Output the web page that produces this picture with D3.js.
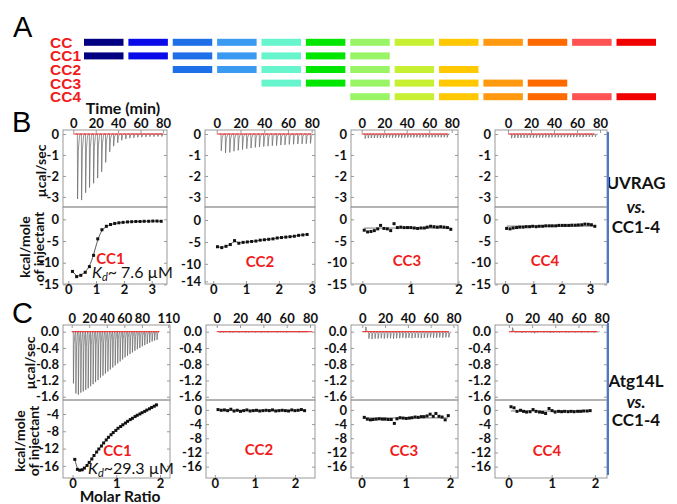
<!DOCTYPE html>
<html>
<head>
<meta charset="utf-8">
<script src="https://cdn.jsdelivr.net/npm/d3@7"></script>
<style>
body { margin: 0; background: #fff; }
svg text { font-family: Lato, "Open Sans", sans-serif; }
</style>
</head>
<body>
<svg id="fig" width="677" height="504"></svg>
<script>
// panel A : coiled-coil segments
var ccRows = ['CC', 'CC1', 'CC2', 'CC3', 'CC4'];
var segColors = ['#000080', '#0a0ae8', '#1f6fe8', '#3a9af2', '#66f5cc', '#00e600', '#99f566',
                 '#c8f032', '#ffc800', '#ff9a10', '#ff6a00', '#ff5252', '#f00000'];
var rowFirst = [0, 0, 2, 4, 6];
var rowLast = [12, 6, 8, 10, 12];

// injection times (min)
var bTimes = [3.6, 7.2, 10.8, 14.3, 17.9, 21.5, 25.1, 28.7, 32.3, 35.8, 39.4, 43.0, 46.6, 50.2,
              53.8, 57.3, 60.9, 64.5, 68.1, 71.7, 75.2, 78.8];
var fineTimes = [2.9, 5.6, 8.3, 11.0, 13.7, 16.4, 19.1, 21.8, 24.5, 27.2, 29.9, 32.6, 35.3, 38.0,
                 40.7, 43.4, 46.1, 48.8, 51.5, 54.2, 56.9, 59.6, 62.3, 65.0, 67.7, 70.4, 73.1, 75.8];
var c1Times = [1.8, 4.6, 7.4, 10.2, 13.0, 15.8, 18.6, 21.4, 24.2, 27.0, 29.8, 32.6, 35.4, 38.2, 41.0,
               43.8, 46.6, 49.4, 52.2, 55.0, 57.8, 60.6, 63.4, 66.2, 69.0, 71.8, 74.6, 77.4, 80.2,
               83.0, 85.8, 88.6, 91.4, 94.2, 97.0];

// raw heat peaks (ucal/sec)
var b1Peaks = [-3.1, -3.15, -2.8, -2.55, -2.35, -2.1, -1.8, -1.35, -0.85, -0.58, -0.42, -0.3, -0.24,
               -0.2, -0.18, -0.16, -0.15, -0.14, -0.13, -0.13, -0.12, -0.12];
var b2Peaks = [-0.8, -0.9, -0.88, -0.82, -0.78, -0.74, -0.7, -0.67, -0.64, -0.62, -0.6, -0.58, -0.56,
               -0.55, -0.53, -0.52, -0.5, -0.49, -0.48, -0.47, -0.46, -0.45];
var b3Peaks = [-0.22, -0.2, -0.19, -0.19, -0.18, -0.19, -0.18, -0.18, -0.17, -0.18, -0.17, -0.17, -0.18,
               -0.17, -0.17, -0.16, -0.17, -0.16, -0.17, -0.16, -0.16, -0.17, -0.16, -0.16, -0.15, -0.16,
               -0.15, -0.16];
var b4Peaks = [-0.2, -0.19, -0.19, -0.18, -0.18, -0.18, -0.17, -0.18, -0.17, -0.17, -0.17, -0.16, -0.17,
               -0.16, -0.16, -0.16, -0.16, -0.15, -0.16, -0.15, -0.15, -0.15, -0.14, -0.15, -0.14, -0.14,
               -0.14, -0.13];
var c1Peaks = [-1.27, -1.52, -1.55, -1.5, -1.47, -1.43, -1.39, -1.34, -1.29, -1.24, -1.19, -1.13, -1.08,
               -1.03, -0.98, -0.93, -0.88, -0.83, -0.78, -0.73, -0.68, -0.63, -0.59, -0.55, -0.51, -0.47,
               -0.43, -0.4, -0.36, -0.33, -0.3, -0.27, -0.24, -0.22, -0.2];
var c2Peaks = [-0.02, -0.02, -0.01, -0.02, -0.02, -0.01, -0.02, -0.01, -0.02, -0.02, -0.01, -0.02, -0.01,
               -0.02, -0.01, -0.02, -0.01, -0.01, -0.02, -0.01, -0.01, -0.02, -0.01, -0.01, -0.01, -0.02,
               -0.01, -0.01];
var c3Peaks = [0.12, -0.17, -0.18, -0.17, -0.17, -0.16, -0.17, -0.16, -0.16, -0.17, -0.16, -0.16, -0.15,
               -0.16, -0.15, -0.16, -0.15, -0.15, -0.16, -0.15, -0.15, -0.14, -0.15, -0.15, -0.14, -0.15,
               -0.14, -0.14];
var c4Peaks = [0.1, -0.02, -0.01, -0.03, -0.02, -0.01, -0.02, -0.04, -0.02, -0.01, -0.02, -0.01, -0.03,
               -0.02, -0.01, -0.02, -0.01, -0.02, -0.02, -0.01, -0.02, -0.01, -0.02, -0.01, -0.02, -0.01,
               -0.02, -0.01];
// end of red baseline (min)
var baseEnds = [80, 80, 77, 75, 100, 82, 76, 76];

// integrated heats: molar ratio / kcal per mole of injectant
var b1Ratio = [0.15, 0.30, 0.45, 0.61, 0.76, 0.91, 1.06, 1.21, 1.37, 1.52, 1.67, 1.82, 1.97, 2.13, 2.28,
               2.43, 2.58, 2.73, 2.89, 3.04, 3.19, 3.34];
var b1Heat = [-12.0, -13.2, -12.9, -12.2, -10.9, -8.3, -4.5, -2.4, -1.6, -1.2, -0.95, -0.8, -0.7, -0.6,
              -0.55, -0.5, -0.5, -0.45, -0.45, -0.4, -0.4, -0.45];
var b2Ratio = [0.13, 0.26, 0.39, 0.52, 0.65, 0.78, 0.91, 1.04, 1.17, 1.30, 1.43, 1.56, 1.69, 1.82, 1.95,
               2.08, 2.21, 2.34, 2.47, 2.60, 2.73, 2.86];
var b2Heat = [-6.1, -6.3, -6.0, -5.6, -4.7, -5.3, -5.1, -5.0, -4.9, -4.8, -4.6, -4.5, -4.4, -4.3, -4.1,
              -4.0, -3.9, -3.8, -3.7, -3.5, -3.4, -3.3];
var b3Ratio = [0.04, 0.11, 0.18, 0.25, 0.32, 0.38, 0.45, 0.52, 0.59, 0.66, 0.73, 0.80, 0.87, 0.94, 1.01,
               1.08, 1.15, 1.22, 1.29, 1.35, 1.42, 1.49, 1.56, 1.63, 1.70, 1.77, 1.84];
var b3Heat = [-2.5, -2.9, -2.8, -2.6, -2.2, -1.4, -2.1, -2.2, -2.6, -1.0, -1.9, -1.8, -1.9, -1.9, -1.9,
              -2.0, -2.1, -2.0, -2.0, -1.8, -1.6, -1.7, -1.8, -1.7, -1.8, -1.9, -2.3];
var b4Ratio = [0.06, 0.18, 0.29, 0.41, 0.52, 0.64, 0.75, 0.87, 0.98, 1.10, 1.21, 1.33, 1.44, 1.56, 1.67,
               1.79, 1.90, 2.02, 2.13, 2.25, 2.36, 2.48, 2.59, 2.71, 2.82, 2.94, 3.05, 3.17];
var b4Heat = [-2.1, -2.2, -2.0, -1.9, -1.8, -1.8, -1.7, -1.7, -1.6, -1.7, -1.6, -1.6, -1.5, -1.5, -1.5,
              -1.5, -1.4, -1.4, -1.4, -1.4, -1.35, -1.35, -1.3, -1.25, -1.1, -1.15, -1.25, -1.6];
var c1Ratio = [0.05, 0.11, 0.16, 0.22, 0.27, 0.33, 0.38, 0.44, 0.49, 0.55, 0.60, 0.66, 0.71, 0.77, 0.82,
               0.88, 0.93, 0.99, 1.04, 1.10, 1.15, 1.21, 1.26, 1.32, 1.37, 1.43, 1.48, 1.54, 1.59, 1.65,
               1.70, 1.76, 1.81, 1.87, 1.92];
var c1Heat = [-14.5, -16.8, -17.0, -16.9, -16.5, -15.9, -15.2, -14.4, -13.6, -12.8, -12.1, -11.4, -10.7,
              -10.0, -9.4, -8.8, -8.3, -7.8, -7.3, -6.9, -6.5, -6.1, -5.7, -5.3, -5.0, -4.6, -4.3, -4.0,
              -3.7, -3.4, -3.1, -2.8, -2.5, -2.2, -1.9];
var c2Ratio = [0.08, 0.16, 0.24, 0.32, 0.40, 0.48, 0.56, 0.64, 0.72, 0.80, 0.88, 0.96, 1.04, 1.12, 1.20,
               1.28, 1.36, 1.44, 1.52, 1.60, 1.68, 1.76, 1.84, 1.92, 2.00, 2.08, 2.16, 2.24];
var c2Heat = [0.1, -0.1, 0.0, -0.2, 0.2, -0.3, -0.1, -0.4, -0.2, 0.0, -0.3, -0.2, -0.1, -0.3, -0.2, -0.1,
              -0.2, 0.0, -0.3, -0.2, -0.1, -0.2, -0.3, 0.0, -0.2, -0.1, 0.1, -0.2];
var c3Ratio = [0.06, 0.13, 0.20, 0.26, 0.33, 0.40, 0.47, 0.53, 0.60, 0.67, 0.74, 0.80, 0.87, 0.94, 1.01,
               1.08, 1.14, 1.21, 1.28, 1.35, 1.41, 1.48, 1.55, 1.62, 1.68, 1.75, 1.82, 1.89, 1.96];
var c3Heat = [-2.1, -2.6, -2.8, -2.7, -2.6, -2.5, -2.6, -2.6, -2.7, -2.7, -3.8, -2.5, -2.2, -2.3, -2.4,
              -2.3, -2.2, -2.0, -2.1, -1.9, -1.9, -1.7, -1.2, -1.8, -1.0, -1.8, -2.0, -2.8, -1.6];
var c4Ratio = [0.06, 0.13, 0.20, 0.28, 0.35, 0.42, 0.50, 0.57, 0.64, 0.72, 0.79, 0.86, 0.94, 1.01, 1.08,
               1.16, 1.23, 1.30, 1.38, 1.45, 1.52, 1.60, 1.67, 1.74, 1.82, 1.89];
var c4Heat = [0.9, 0.6, -0.4, -0.1, -0.4, -0.6, -0.5, 0.1, -0.4, -0.6, -0.7, -1.0, 0.4, -0.2, -0.6, -0.4,
              -0.5, -0.4, -0.5, -0.4, -0.5, -0.4, -0.4, -0.3, -0.3, -0.2];

// tick labels
var bHeatTicks = [0, -1, -2, -3];
var cHeatTicks = [0, -0.4, -0.8, -1.2, -1.6];
var timeTicks = [0, 20, 40, 60, 80];
var c1TimeTicks = [0, 20, 40, 60, 80, 110];
var bEnthTicks = [0, -5, -10, -15];
var b2EnthTicks = [0, -5, -10, -14];
var c1EnthTicks = [-4, -8, -12, -16];
var cEnthTicks = [0, -4, -8, -12, -16];
var ratioTicks3 = [0, 1, 2, 3];
var ratioTicks2 = [0, 1, 2];

var svg = d3.select('#fig');
var red = '#f01c1c';

// ---------- panel A
svg.append('text').attr('x', 13).attr('y', 37).text('A')
    .style('font-family', '"Liberation Sans", Arial, sans-serif').style('font-size', '29px');

var segX = d3.scaleBand().domain(d3.range(segColors.length)).range([84, 656]).paddingInner(0.11);
var rowY = d3.scalePoint().domain(ccRows).range([42.3, 96.7]);

ccRows.forEach(function (r, i) {
    svg.append('text').attr('x', 50).attr('y', rowY(r)).attr('dominant-baseline', 'central')
        .text(r).attr('fill', red)
        .style('font-family', '"Liberation Sans Narrow", "Arial Narrow", "Liberation Sans", sans-serif')
        .style('font-weight', 'bold').style('font-size', '15.5px');
    for (var k = rowFirst[i]; k <= rowLast[i]; k++) {
        svg.append('rect').attr('x', segX(k)).attr('y', rowY(r) - 3.5)
            .attr('width', segX.bandwidth()).attr('height', 7).attr('fill', segColors[k]);
    }
});

// ---------- ITC panels
var bRow = {yTop: 130, yMid: 207, yBot: 284};
var cRow = {yTop: 325, yMid: 400, yBot: 478};
var fmt0 = function (d) { return String(d); };
var fmt1 = function (d) { return d.toFixed(1); };

var panels = [
    {row: bRow, x0: 63, x1: 167, timeDom: [-9.2, 83.6], heatDom: [-3.48, 0.19], ratioDom: [-0.19, 3.55], enthDom: [-14.9, 2.84],
     times: bTimes, peaks: b1Peaks, ratio: b1Ratio, heat: b1Heat, heatTicks: bHeatTicks, heatFmt: fmt0,
     timeTicks: timeTicks, enthTicks: bEnthTicks, ratioTicks: ratioTicks3, name: 'CC1', nx: 110.5, ny: 257.5,
     kd: '~ 7.6 \u00b5M', kx: 92, ky: 278, fit: 'smooth'},
    {row: bRow, x0: 205, x1: 315, timeDom: [-9.9, 82.8], heatDom: [-3.48, 0.19], ratioDom: [-0.25, 3.1], enthDom: [-14.6, 2.97],
     times: bTimes, peaks: b2Peaks, ratio: b2Ratio, heat: b2Heat, heatTicks: bHeatTicks, heatFmt: fmt0,
     timeTicks: timeTicks, enthTicks: b2EnthTicks, ratioTicks: ratioTicks3, name: 'CC2', nx: 260, ny: 261, fit: 'smooth'},
    {row: bRow, x0: 351, x1: 458, timeDom: [-9.5, 85.6], heatDom: [-3.48, 0.19], ratioDom: [-0.235, 1.99], enthDom: [-14.9, 2.84],
     times: fineTimes, peaks: b3Peaks, ratio: b3Ratio, heat: b3Heat, heatTicks: bHeatTicks, heatFmt: fmt0,
     timeTicks: timeTicks, enthTicks: bEnthTicks, ratioTicks: ratioTicks2, name: 'CC3', nx: 407, ny: 260, fit: 'flat'},
    {row: bRow, x0: 495, x1: 607, timeDom: [-11.3, 86.1], heatDom: [-3.48, 0.19], ratioDom: [-0.35, 3.6], enthDom: [-14.9, 2.84],
     times: fineTimes, peaks: b4Peaks, ratio: b4Ratio, heat: b4Heat, heatTicks: bHeatTicks, heatFmt: fmt0,
     timeTicks: timeTicks, enthTicks: bEnthTicks, ratioTicks: ratioTicks3, name: 'CC4', nx: 545, ny: 260, fit: 'flat'},
    {row: cRow, x0: 63, x1: 170, timeDom: [-9.9, 112], heatDom: [-1.68, 0.165], ratioDom: [-0.22, 2.23], enthDom: [-18.8, -0.77],
     times: c1Times, peaks: c1Peaks, ratio: c1Ratio, heat: c1Heat, heatTicks: cHeatTicks, heatFmt: fmt1,
     timeTicks: c1TimeTicks, enthTicks: c1EnthTicks, ratioTicks: ratioTicks2, name: 'CC1', nx: 117.5, ny: 450,
     kd: '~29.3 \u00b5M', kx: 88, ky: 474, fit: 'smooth'},
    {row: cRow, x0: 206, x1: 315, timeDom: [-9.2, 84.3], heatDom: [-1.68, 0.165], ratioDom: [-0.22, 2.5], enthDom: [-19.2, 2.8],
     times: fineTimes, peaks: c2Peaks, ratio: c2Ratio, heat: c2Heat, heatTicks: cHeatTicks, heatFmt: fmt1,
     timeTicks: timeTicks, enthTicks: cEnthTicks, ratioTicks: ratioTicks2, name: 'CC2', nx: 259, ny: 449, fit: 'flat'},
    {row: cRow, x0: 351, x1: 458, timeDom: [-9.9, 84], heatDom: [-1.68, 0.165], ratioDom: [-0.24, 2.18], enthDom: [-19.2, 2.8],
     times: fineTimes, peaks: c3Peaks, ratio: c3Ratio, heat: c3Heat, heatTicks: cHeatTicks, heatFmt: fmt1,
     timeTicks: timeTicks, enthTicks: cEnthTicks, ratioTicks: ratioTicks2, name: 'CC3', nx: 404, ny: 450, fit: 'flat'},
    {row: cRow, x0: 495, x1: 607, timeDom: [-12, 84.6], heatDom: [-1.68, 0.165], ratioDom: [-0.31, 2.28], enthDom: [-19.2, 2.8],
     times: fineTimes, peaks: c4Peaks, ratio: c4Ratio, heat: c4Heat, heatTicks: cHeatTicks, heatFmt: fmt1,
     timeTicks: timeTicks, enthTicks: cEnthTicks, ratioTicks: ratioTicks2, name: 'CC4', nx: 547, ny: 450, fit: 'flat'}
];

function styleAxis(g) {
    g.select('.domain').remove();
    g.selectAll('.tick line').attr('stroke', '#999');
    g.selectAll('.tick text').attr('fill', '#111')
        .style('font-family', 'Lato, sans-serif').style('font-weight', 'bold').style('font-size', '13px');
}

panels.forEach(function (p, pi) {
    var r = p.row;
    var g = svg.append('g');
    var tx = d3.scaleLinear().domain(p.timeDom).range([p.x0, p.x1]);
    var ty = d3.scaleLinear().domain(p.heatDom).range([r.yMid, r.yTop]);
    var mx = d3.scaleLinear().domain(p.ratioDom).range([p.x0, p.x1]);
    var my = d3.scaleLinear().domain(p.enthDom).range([r.yBot, r.yMid]);

    // thermogram
    var pts = [[p.times[0] - 1, 0]];
    p.times.forEach(function (t, i) {
        var h = p.peaks[i];
        pts.push([t, 0], [t + 0.2, h], [t + 0.9, h * 0.25], [t + 1.8, h * 0.05], [t + 2.4, 0]);
    });
    var clipId = 'clip' + pi;
    svg.append('clipPath').attr('id', clipId).append('rect')
        .attr('x', p.x0).attr('y', r.yTop).attr('width', p.x1 - p.x0).attr('height', r.yMid - r.yTop);
    g.append('path').attr('clip-path', 'url(#' + clipId + ')')
        .attr('d', d3.line().x(function (d) { return tx(d[0]); }).y(function (d) { return ty(d[1]); })(pts))
        .attr('fill', 'none').attr('stroke', '#666').attr('stroke-width', 0.7);
    g.append('line').attr('x1', tx(0)).attr('x2', tx(baseEnds[pi])).attr('y1', ty(0)).attr('y2', ty(0))
        .attr('stroke', red).attr('stroke-width', 1);

    // fit line
    var fitLine = d3.line().x(function (d) { return mx(d[0]); }).y(function (d) { return my(d[1]); });
    var xy = p.ratio.map(function (x, i) { return [x, p.heat[i]]; });
    if (p.fit === 'smooth') {
        g.append('path').attr('d', fitLine.curve(d3.curveBasis)(xy))
            .attr('fill', 'none').attr('stroke', '#444').attr('stroke-width', 0.9);
    } else {
        var m = d3.mean(p.heat);
        g.append('path').attr('d', fitLine([[p.ratio[0], m], [p.ratio[p.ratio.length - 1], m]]))
            .attr('fill', 'none').attr('stroke', '#555').attr('stroke-width', 0.8);
    }
    g.selectAll('rect.pt').data(xy).enter().append('rect')
        .attr('x', function (d) { return mx(d[0]) - 1.5; })
        .attr('y', function (d) { return my(d[1]) - 1.5; })
        .attr('width', 3).attr('height', 3).attr('fill', '#111');

    // frames
    g.append('rect').attr('x', p.x0).attr('y', r.yTop).attr('width', p.x1 - p.x0).attr('height', r.yMid - r.yTop)
        .attr('fill', 'none').attr('stroke', '#999');
    g.append('rect').attr('x', p.x0).attr('y', r.yMid).attr('width', p.x1 - p.x0).attr('height', r.yBot - r.yMid)
        .attr('fill', 'none').attr('stroke', '#999');

    // axes
    g.append('g').attr('transform', 'translate(' + p.x0 + ',0)')
        .call(d3.axisLeft(ty).tickValues(p.heatTicks).tickFormat(p.heatFmt).tickSize(-3).tickPadding(4)).call(styleAxis);
    g.append('g').attr('transform', 'translate(' + p.x1 + ',0)')
        .call(d3.axisRight(ty).tickValues(p.heatTicks).tickFormat('').tickSize(-3)).call(styleAxis);
    g.append('g').attr('transform', 'translate(0,' + r.yTop + ')')
        .call(d3.axisTop(tx).tickValues(p.timeTicks).tickFormat(fmt0).tickSize(-3).tickPadding(2)).call(styleAxis);
    g.append('g').attr('transform', 'translate(' + p.x0 + ',0)')
        .call(d3.axisLeft(my).tickValues(p.enthTicks).tickFormat(fmt0).tickSize(-3).tickPadding(4)).call(styleAxis);
    g.append('g').attr('transform', 'translate(' + p.x1 + ',0)')
        .call(d3.axisRight(my).tickValues(p.enthTicks).tickFormat('').tickSize(-3)).call(styleAxis);
    g.append('g').attr('transform', 'translate(0,' + r.yBot + ')')
        .call(d3.axisBottom(mx).tickValues(p.ratioTicks).tickFormat(fmt0).tickSize(-3).tickPadding(1)).call(styleAxis);

    // labels
    g.append('text').attr('x', p.nx).attr('y', p.ny).attr('text-anchor', 'middle').attr('dominant-baseline', 'central')
        .attr('fill', red).style('font-weight', 'bold').style('font-size', '15px').text(p.name);
    if (p.kd) {
        var kt = g.append('text').attr('x', p.kx).attr('y', p.ky).attr('fill', '#111').style('font-size', '16px');
        kt.append('tspan').style('font-style', 'italic').text('K');
        kt.append('tspan').style('font-style', 'italic').style('font-size', '11px').attr('dy', 3).text('d');
        kt.append('tspan').attr('dy', -3).text(p.kd);
    }
});

// ---------- titles
function bold(x, y, s, size) {
    return svg.append('text').attr('x', x).attr('y', y).attr('text-anchor', 'middle')
        .attr('dominant-baseline', 'central').style('font-weight', 'bold').style('font-size', size + 'px')
        .attr('fill', '#111').text(s);
}
function rotated(x, y, s) {
    return bold(0, 0, s, 14).attr('transform', 'translate(' + x + ',' + y + ') rotate(-90)');
}

svg.append('text').attr('x', 12).attr('y', 132).text('B')
    .style('font-family', '"Liberation Sans", Arial, sans-serif').style('font-size', '29px');
svg.append('text').attr('x', 12).attr('y', 323).text('C')
    .style('font-family', '"Liberation Sans", Arial, sans-serif').style('font-size', '29px');

bold(123, 107, 'Time (min)', 16);
bold(120, 501.5, 'Molar Ratio', 15.5).attr('dominant-baseline', 'alphabetic');

rotated(40, 171, '\u00b5cal/sec');
rotated(24, 247, 'kcal/mole');
rotated(38, 247, 'of injectant');
rotated(29, 363, '\u00b5cal/sec');
rotated(19, 441, 'kcal/mole');
rotated(33, 441, 'of injectant');

var sideX = 636;
bold(sideX, 182.5, 'UVRAG', 17);
bold(sideX, 206.5, 'vs.', 17).style('font-style', 'italic');
bold(sideX, 226, 'CC1-4', 17);
bold(sideX, 380, 'Atg14L', 17);
bold(sideX, 401, 'vs.', 17).style('font-style', 'italic');
bold(sideX, 419, 'CC1-4', 17);

svg.append('line').attr('x1', 608).attr('x2', 608).attr('y1', 132).attr('y2', 283)
    .attr('stroke', '#4a78d0').attr('stroke-width', 2);
svg.append('line').attr('x1', 608).attr('x2', 608).attr('y1', 323).attr('y2', 475)
    .attr('stroke', '#4a78d0').attr('stroke-width', 2);
</script>
</body>
</html>
